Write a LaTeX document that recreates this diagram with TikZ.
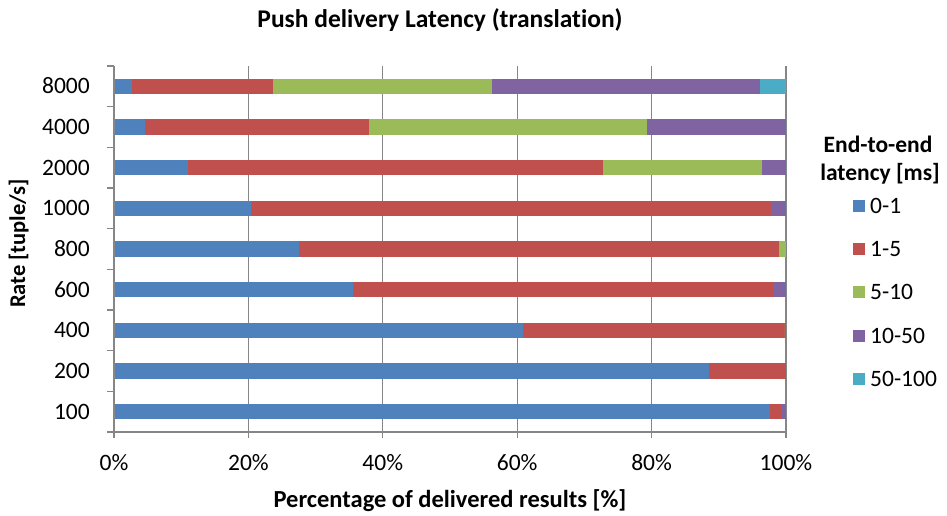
\documentclass[tikz,border=0pt]{standalone}
\usepackage{fontspec}
\setmainfont{Carlito}[Ligatures={NoCommon}]
\definecolor{cblue}{HTML}{4F81BD}
\definecolor{cred}{HTML}{C0504D}
\definecolor{cgreen}{HTML}{9BBB59}
\definecolor{cpurple}{HTML}{8064A2}
\definecolor{ccyan}{HTML}{4BACC6}
\definecolor{axisgray}{HTML}{868686}
\begin{document}
\begin{tikzpicture}[x=1pt,y=-1pt,
  axisline/.style={draw=axisgray,line width=1.3pt},
  gridline/.style={draw=axisgray,line width=1.1pt},
  ticklab/.style={font=\fontsize{23.5}{28}\selectfont,text=black,inner sep=0pt},
  boldlab/.style={font=\fontsize{23.5}{28}\selectfont\bfseries,text=black,inner sep=0pt},
  legsq/.style={minimum size=12pt,inner sep=0pt,draw=none}]
\useasboundingbox (0,0) rectangle (947,515);
\fill[white] (0,0) rectangle (947,515);
% gridlines
\foreach \p in {20,40,60,80,100}
  \draw[gridline] ({114+6.72*\p},66) -- ({114+6.72*\p},432);
% bars
\foreach \i/\a/\b/\c/\d in {0/2.7/23.6/56.3/96.1, 1/4.6/38.0/79.3/100, 2/11.0/72.7/96.5/100,
  3/20.4/97.8/97.8/100, 4/27.5/99.0/100/100, 5/35.5/98.1/98.1/100, 6/60.9/99.8/99.8/100,
  7/88.5/100/100/100, 8/97.6/99.3/99.3/100}{
  \pgfmathsetmacro\yc{66+40.667*(\i+0.5)}
  \fill[cblue] (114,{\yc-7.8}) rectangle ({114+6.72*\a},{\yc+7.8});
  \fill[cred] ({114+6.72*\a},{\yc-7.8}) rectangle ({114+6.72*\b},{\yc+7.8});
  \fill[cgreen] ({114+6.72*\b},{\yc-7.8}) rectangle ({114+6.72*\c},{\yc+7.8});
  \fill[cpurple] ({114+6.72*\c},{\yc-7.8}) rectangle ({114+6.72*\d},{\yc+7.8});
  \fill[ccyan] ({114+6.72*\d},{\yc-7.8}) rectangle (786,{\yc+7.8});
}
% axes
\draw[axisline] (114,66) -- (114,432) -- (786,432);
\foreach \k in {0,...,9}
  \draw[axisline] (107,{66+40.667*\k}) -- (114,{66+40.667*\k});
\foreach \p in {0,20,40,60,80,100}
  \draw[axisline] ({114+6.72*\p},432) -- ({114+6.72*\p},438);
% y tick labels
\foreach \i/\lab in {0/8000,1/4000,2/2000,3/1000,4/800,5/600,6/400,7/200,8/100}{
  \pgfmathsetmacro\yc{66+40.667*(\i+0.5)}
  \node[ticklab,anchor=base east] (yl\lab) at (90,{\yc+7.6}) {\lab};
}
% x tick labels
\foreach \p in {0,20,40,60,80,100}
  \node[ticklab,anchor=base] (xl\p) at ({114+6.72*\p},470.5) {\p\%};
% titles
\node[boldlab,anchor=base,font=\fontsize{25.5}{30}\selectfont\bfseries] (title) at (440,27.5) {Push delivery Latency (translation)};
\node[boldlab,anchor=base,font=\fontsize{24.5}{29}\selectfont\bfseries] (xtitle) at (450,507.5) {Percentage of delivered results [\%]};
\node[boldlab,anchor=base,rotate=90,font=\fontsize{22.5}{27}\selectfont\bfseries] (ytitle) at (25,243.5) {Rate [tuple/s]};
% legend
\node[boldlab,anchor=base] (legt1) at (878,152) {End-to-end};
\node[boldlab,anchor=base] (legt2) at (880,180.5) {latency [ms]};
\foreach \j/\col/\lab in {0/cblue/0-1,1/cred/1-5,2/cgreen/5-10,3/cpurple/10-50,4/ccyan/50-100}{
  \pgfmathsetmacro\ly{205.5+43.4*\j}
  \node[legsq,fill=\col] (lsq\j) at (859,\ly) {};
  \node[ticklab,anchor=base west] (ltx\j) at (870,{\ly+7.5}) {\lab};
}
\end{tikzpicture}
\end{document}
